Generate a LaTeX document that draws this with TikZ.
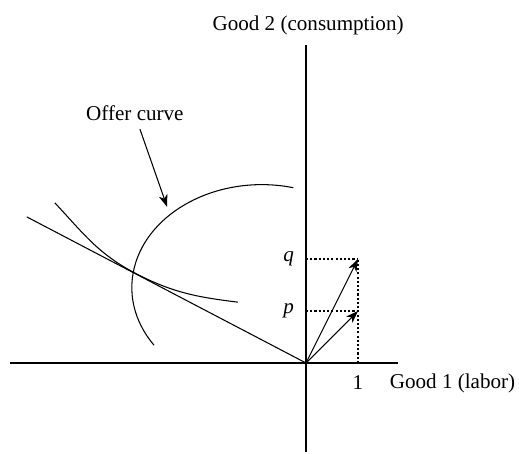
\documentclass[tikz,border=0pt]{standalone}
\usepackage{fontspec}
\setmainfont{Liberation Serif}
\usetikzlibrary{arrows.meta, positioning}

\begin{document}
\begin{tikzpicture}[
        x=1.04cm, y=1.04cm,
        axis/.style={line width=0.6pt},
        curve/.style={line width=0.6pt},
        vec/.style={-{Stealth[length=7pt, width=5pt, inset=2pt]}, line width=0.6pt},
        guide/.style={dash pattern=on 1.2pt off 1.2pt, line width=0.7pt},
        lbl/.style={font=\fontsize{12}{14}\selectfont}
    ]
        \useasboundingbox (-5.885,-1.731) rectangle (4.096,6.981);

        % axes
        \coordinate (O) at (0,0);
        \coordinate (xl) at (-5.69,0);
        \coordinate (xr) at (1.77,0);
        \coordinate (yb) at (0,-1.71);
        \coordinate (yt) at (0,6.12);
        \draw[axis] (xl) -- (xr);
        \draw[axis] (yb) -- (yt);

        \node[lbl] (good2) at (0.04,6.5) {Good 2 (consumption)};
        \node[lbl, anchor=east, inner sep=0pt] (good1) at (4.03,-0.385) {Good 1 (labor)};

        % price vectors
        \coordinate (P) at (1,1);
        \coordinate (Q) at (1,2);
        \coordinate (one) at (1,0);
        \coordinate (py) at (0,1);
        \coordinate (qy) at (0,2);
        \draw[guide] (qy) -- (Q);
        \draw[guide] (py) -- (P);
        \draw[guide] (one) -- (Q);
        \draw[vec] (O) -- (Q);
        \draw[vec] (O) -- (P);
        \node[lbl, left=0.12cm of qy] (qlab) {\textit{q}};
        \node[lbl, left=0.12cm of py] (plab) {\textit{p}};
        \node[lbl, below=0.12cm of one] (onelab) {1};

        % budget line and indifference curve
        \coordinate (bl) at (-5.37,2.81);
        \coordinate (T) at (-3.29,1.73);
        \draw[curve] (bl) -- (O);
        \draw[curve] (-4.83,3.08) to[out=-47, in=152.4] (T) to[out=-27.6, in=173] (-1.31,1.17);

        % offer curve
        \draw[curve] (-0.85,1.45) ++(76:2.5 and 1.98) arc[start angle=76, end angle=214, x radius=2.5, y radius=1.98];
        \coordinate (oc) at (-2.67,3.0);
        \node[lbl] (offer) at (-3.29,4.81) {Offer curve};
        \draw[vec] ([xshift=0.1cm, yshift=-0.05cm]offer.south) -- (oc);

    \end{tikzpicture}
\end{document}
